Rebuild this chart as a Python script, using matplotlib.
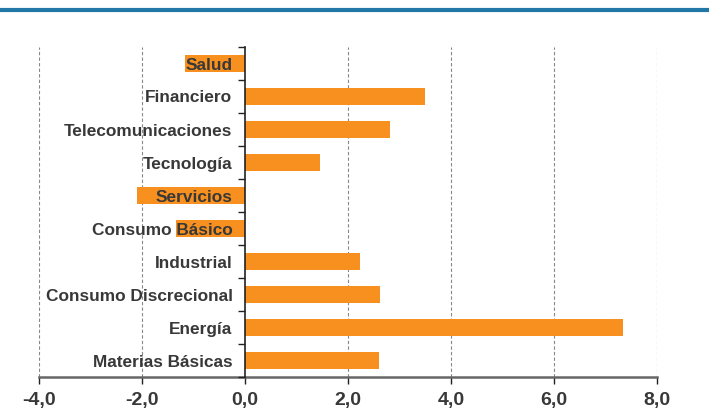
import matplotlib
matplotlib.use("Agg")
from matplotlib import pyplot as plt
from matplotlib.ticker import FuncFormatter

# Data (top to bottom as shown)
SECTORS = ["Salud", "Financiero", "Telecomunicaciones", "Tecnología", "Servicios",
           "Consumo Básico", "Industrial", "Consumo Discrecional", "Energía",
           "Materias Básicas"]
VALUES = [-1.17, 3.50, 2.82, 1.46, -2.10, -1.34, 2.23, 2.62, 7.34, 2.60]
X_TICKS = [-4, -2, 0, 2, 4, 6, 8]

BAR_COLOR = "#F7901E"
TEXT_COLOR = "#383838"
TOP_LINE_COLOR = "#2177A8"

plt.rcParams['font.family'] = ['Liberation Sans', 'DejaVu Sans']
plt.rcParams['font.weight'] = 'bold'

fig = plt.figure(figsize=(7.09, 4.11), dpi=100)
ax = fig.add_axes([39 / 709, 34 / 411, 618 / 709, 330 / 411])

ypos = list(range(len(SECTORS)))[::-1]
ax.barh(ypos, VALUES, height=0.52, color=BAR_COLOR, zorder=2)

ax.set_xlim(-4, 8)
ax.set_ylim(-0.5, len(SECTORS) - 0.5)
ax.set_xticks(X_TICKS)
ax.xaxis.set_major_formatter(FuncFormatter(lambda v, p: "{:.1f}".format(v).replace(".", ",")))

# category boundaries as ticks, labels at centres
ax.set_yticks([y - 0.5 for y in range(len(SECTORS) + 1)])
ax.set_yticklabels([])
ax.set_yticks(ypos, minor=True)
ax.set_yticklabels(SECTORS, minor=True)
ax.tick_params(axis='y', which='major', direction='out', length=5, width=1, color='#222222')
ax.tick_params(axis='y', which='minor', length=0, pad=9, labelsize=12.4, labelcolor=TEXT_COLOR)

ax.tick_params(axis='x', direction='out', length=5, width=1, color='#222222',
               labelsize=14, labelcolor=TEXT_COLOR, pad=6)

ax.spines['left'].set_position(('data', 0))
ax.spines['left'].set_color('#222222')
ax.spines['left'].set_linewidth(1.2)
ax.spines['bottom'].set_color('#666666')
ax.spines['bottom'].set_linewidth(1.8)
ax.spines['top'].set_visible(False)
ax.spines['right'].set_visible(False)

for x in X_TICKS:
    if x != 0:
        ax.axvline(x, color='#888888', linestyle=(0, (3, 2)), linewidth=0.8, zorder=0.5)

ax.yaxis.set_zorder(3)
ax.spines['left'].set_zorder(3)

# blue rule at top
fig.add_artist(plt.Line2D([2 / 709, 707 / 709], [1 - 10 / 411, 1 - 10 / 411],
                          color=TOP_LINE_COLOR, linewidth=3, transform=fig.transFigure))

fig.savefig("out.png", dpi=100)
